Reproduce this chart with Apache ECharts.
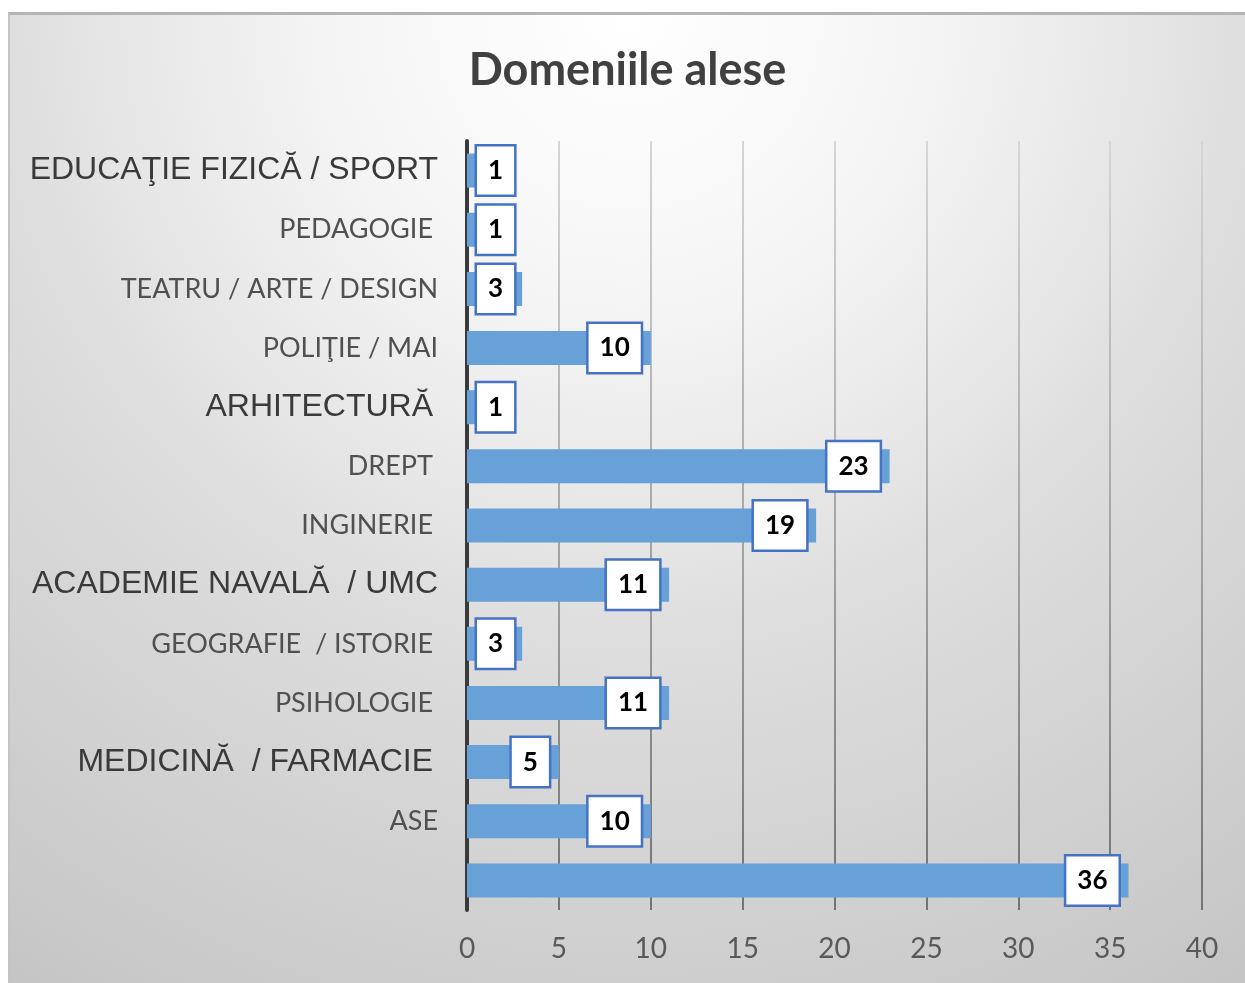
<!DOCTYPE html>
<html>
<head>
<meta charset="utf-8">
<script src="https://cdn.jsdelivr.net/npm/echarts@6/dist/echarts.min.js"></script>
<style>
  html, body { margin: 0; padding: 0; background: #ffffff; width: 1245px; height: 983px; overflow: hidden; }
  #frame { position: absolute; left: 8px; top: 12px; width: 1237px; height: 971px;
           border-top: 3px solid #b4b4b4; border-left: 2px solid #c4c4c4; box-sizing: border-box; }
  #chart { position: absolute; left: 0; top: 0; width: 1235px; height: 968px; }
</style>
</head>
<body>
<div id="frame"><div id="chart"></div></div>
<script>
// ---- data ----
const titleText = 'Domeniile alese';
const categories = [
  'EDUCAŢIE FIZICĂ / SPORT',
  'PEDAGOGIE',
  'TEATRU / ARTE / DESIGN',
  'POLIŢIE / MAI',
  'ARHITECTURĂ',
  'DREPT',
  'INGINERIE',
  'ACADEMIE NAVALĂ  / UMC',
  'GEOGRAFIE  / ISTORIE',
  'PSIHOLOGIE',
  'MEDICINĂ  / FARMACIE',
  'ASE',
  ''
];
const values = [1, 1, 3, 10, 1, 23, 19, 11, 3, 11, 5, 10, 36];
const axisMin = 0, axisMax = 40, axisStep = 5;

// ---- styling helpers (not data) ----
const arialStyled = new Set(['EDUCAŢIE FIZICĂ / SPORT', 'ARHITECTURĂ', 'ACADEMIE NAVALĂ  / UMC', 'MEDICINĂ  / FARMACIE']);
const nudged = new Set(['PEDAGOGIE', 'ARHITECTURĂ', 'DREPT', 'INGINERIE', 'PSIHOLOGIE', 'MEDICINĂ  / FARMACIE', 'GEOGRAFIE  / ISTORIE']);

const chart = echarts.init(document.getElementById('chart'), null, { renderer: 'canvas' });

const seriesData = values.map(v => ({
  value: v,
  label: {
    position: (v / (axisMax - axisMin)) * 745 < 60 ? 'insideLeft' : 'insideRight'
  }
}));

chart.setOption({
  backgroundColor: {
    type: 'radial', x: 0.5, y: 0.0, r: 1.2,
    colorStops: [
      { offset: 0, color: '#ffffff' },
      { offset: 0.25, color: '#f5f5f5' },
      { offset: 0.42, color: '#e8e8e8' },
      { offset: 0.55, color: '#dddddd' },
      { offset: 0.7, color: '#d5d5d5' },
      { offset: 0.85, color: '#cdcdcd' },
      { offset: 1, color: '#c4c4c4' }
    ]
  },
  animation: false,
  title: {
    text: titleText,
    left: 'center',
    top: 28,
    textStyle: { fontFamily: 'Lato', fontWeight: 'bold', fontSize: 45, color: '#404040' }
  },
  grid: { left: 457, right: 43, top: 126, bottom: 73, containLabel: false },
  xAxis: {
    type: 'value',
    min: axisMin, max: axisMax, interval: axisStep,
    axisLine: { show: false },
    axisTick: { show: false },
    axisLabel: { fontFamily: 'Lato', fontSize: 28, color: '#595959', margin: 25 },
    splitLine: {
      show: true,
      lineStyle: {
        width: 2,
        color: {
          type: 'linear', x: 0, y: 126, x2: 0, y2: 895, global: true,
          colorStops: [{ offset: 0, color: '#d6d6d6' }, { offset: 0.5, color: '#a6a6a6' }, { offset: 1, color: '#737373' }]
        }
      }
    }
  },
  yAxis: {
    type: 'category',
    data: categories,
    inverse: true,
    axisLine: { show: true, lineStyle: { color: '#3a3a3a', width: 4 } },
    axisTick: { show: false },
    splitLine: { show: false },
    axisLabel: {
      margin: 29,
      formatter: function (val) {
        if (!val) return '';
        const key = (arialStyled.has(val) ? 'a' : 'c') + (nudged.has(val) ? 'n' : '');
        return '{' + key + '|' + val + '}';
      },
      rich: {
        a: { fontFamily: 'Liberation Sans', fontSize: 32, color: '#3a3a3a' },
        an: { fontFamily: 'Liberation Sans', fontSize: 32, color: '#3a3a3a', padding: [0, 5, 0, 0] },
        c: { fontFamily: 'Lato', fontSize: 27, color: '#505050' },
        cn: { fontFamily: 'Lato', fontSize: 27, color: '#505050', padding: [0, 5, 0, 0] }
      }
    }
  },
  series: [{
    type: 'bar',
    data: seriesData,
    barWidth: 34,
    itemStyle: { color: '#68a0d8' },
    label: {
      show: true,
      distance: 10,
      fontFamily: 'Lato',
      fontWeight: 'bold',
      fontSize: 26,
      lineHeight: 26,
      color: '#000000',
      backgroundColor: '#ffffff',
      borderColor: '#4472c4',
      borderWidth: 2.5,
      padding: [12, 11, 10, 11]
    }
  }]
});
</script>
</body>
</html>
